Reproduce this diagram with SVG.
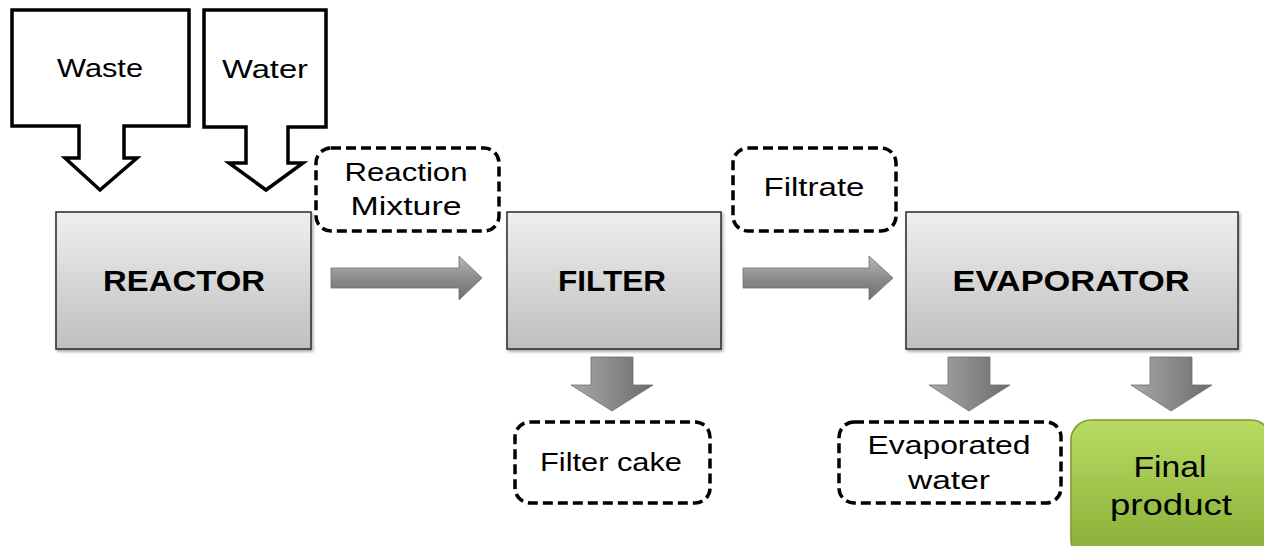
<svg xmlns="http://www.w3.org/2000/svg" width="1264" height="546" viewBox="0 0 1264 546">
<style>
.lbl{font-family:"Liberation Sans",Arial,sans-serif;font-size:25px;fill:#000;text-anchor:middle}
.big{font-family:"Liberation Sans",Arial,sans-serif;font-size:30px;font-weight:bold;fill:#000;text-anchor:middle}
.callout{fill:#fff;stroke:#000;stroke-width:3.5;stroke-linejoin:miter}
.dash{fill:#fff;stroke:#000;stroke-width:3.5;stroke-dasharray:10 5}
.proc{fill:url(#gGray);stroke:#2a2a2a;stroke-width:1.5;filter:url(#sh)}
.harrow{fill:url(#gArrH);stroke:#6e6e6e;stroke-width:0.8}
.varrow{fill:url(#gArrV);stroke:#6e6e6e;stroke-width:0.8}
</style>
<defs>
<linearGradient id="gGray" x1="0" y1="0" x2="0" y2="1">
<stop offset="0" stop-color="#efefef"/><stop offset="1" stop-color="#bfbfbf"/>
</linearGradient>
<linearGradient id="gArrH" x1="0" y1="0" x2="0" y2="1">
<stop offset="0" stop-color="#b8b8b8"/><stop offset="0.5" stop-color="#8c8c8c"/><stop offset="1" stop-color="#6f6f6f"/>
</linearGradient>
<linearGradient id="gArrV" x1="0" y1="0" x2="1" y2="0">
<stop offset="0" stop-color="#a8a8a8"/><stop offset="0.5" stop-color="#8a8a8a"/><stop offset="1" stop-color="#6c6c6c"/>
</linearGradient>
<linearGradient id="gGreen" x1="0" y1="0" x2="0" y2="1">
<stop offset="0" stop-color="#b9db63"/><stop offset="1" stop-color="#86ad35"/>
</linearGradient>
<filter id="sh" x="-5%" y="-5%" width="115%" height="115%">
<feDropShadow dx="1.5" dy="2" stdDeviation="1.5" flood-color="#000" flood-opacity="0.35"/>
</filter>
</defs>

<g id="waste">
<path class="callout" d="M12,10 H189 V126 H124 V158 H137 L100,190 L65,158 H79 V126 H12 Z"/>
<text class="lbl" x="100" y="77" textLength="86" lengthAdjust="spacingAndGlyphs">Waste</text>
</g>
<g id="water">
<path class="callout" d="M204,10 H326 V127 H288 V163 H303 L266,190 L229,163 H246 V127 H204 Z"/>
<text class="lbl" x="265" y="78" textLength="86" lengthAdjust="spacingAndGlyphs">Water</text>
</g>

<g id="reactor">
<rect class="proc" x="56" y="212" width="255" height="137"/>
<text class="big" x="184" y="291" textLength="162" lengthAdjust="spacingAndGlyphs">REACTOR</text>
</g>
<g id="filter">
<rect class="proc" x="507" y="212" width="214" height="137"/>
<text class="big" x="612" y="291" textLength="108" lengthAdjust="spacingAndGlyphs">FILTER</text>
</g>
<g id="evaporator">
<rect class="proc" x="906" y="212" width="332" height="137"/>
<text class="big" x="1071" y="291" textLength="237" lengthAdjust="spacingAndGlyphs">EVAPORATOR</text>
</g>

<g id="reaction-mixture">
<rect class="dash" x="316" y="148" width="183" height="83" rx="15"/>
<text class="lbl" x="406" y="181" textLength="123" lengthAdjust="spacingAndGlyphs">Reaction</text>
<text class="lbl" x="406" y="215" textLength="111" lengthAdjust="spacingAndGlyphs">Mixture</text>
</g>
<g id="filtrate">
<rect class="dash" x="733" y="148" width="163" height="83" rx="15"/>
<text class="lbl" x="814" y="196" textLength="101" lengthAdjust="spacingAndGlyphs">Filtrate</text>
</g>
<g id="filter-cake">
<rect class="dash" x="515" y="422" width="195" height="81" rx="15"/>
<text class="lbl" x="611" y="471" textLength="142" lengthAdjust="spacingAndGlyphs">Filter cake</text>
</g>
<g id="evaporated-water">
<rect class="dash" x="839" y="422" width="222" height="81" rx="15"/>
<text class="lbl" x="949" y="454" textLength="163" lengthAdjust="spacingAndGlyphs">Evaporated</text>
<text class="lbl" x="949" y="489" textLength="82" lengthAdjust="spacingAndGlyphs">water</text>
</g>
<g id="final-product">
<rect x="1071" y="420" width="200" height="140" rx="20" fill="url(#gGreen)" stroke="#7a9c2e" stroke-width="1.5" filter="url(#sh)"/>
<text class="lbl" x="1170" y="477" style="font-size:29px" textLength="73" lengthAdjust="spacingAndGlyphs">Final</text>
<text class="lbl" x="1171" y="515" style="font-size:29px" textLength="122" lengthAdjust="spacingAndGlyphs">product</text>
</g>

<g id="connectors">
<path class="harrow" d="M331,268 H459 V256 L482,278 L459,300 V288 H331 Z"/>
<path class="harrow" d="M743,268 H869 V256 L893,278 L869,300 V288 H743 Z"/>
<path class="varrow" d="M591,357 H633 V385 H653 L612,411 L571,385 H591 Z"/>
<path class="varrow" d="M948,357 H990 V385 H1010 L969,411 L929,385 H948 Z"/>
<path class="varrow" d="M1150,357 H1192 V385 H1212 L1171,411 L1131,385 H1150 Z"/>
</g>
</svg>
